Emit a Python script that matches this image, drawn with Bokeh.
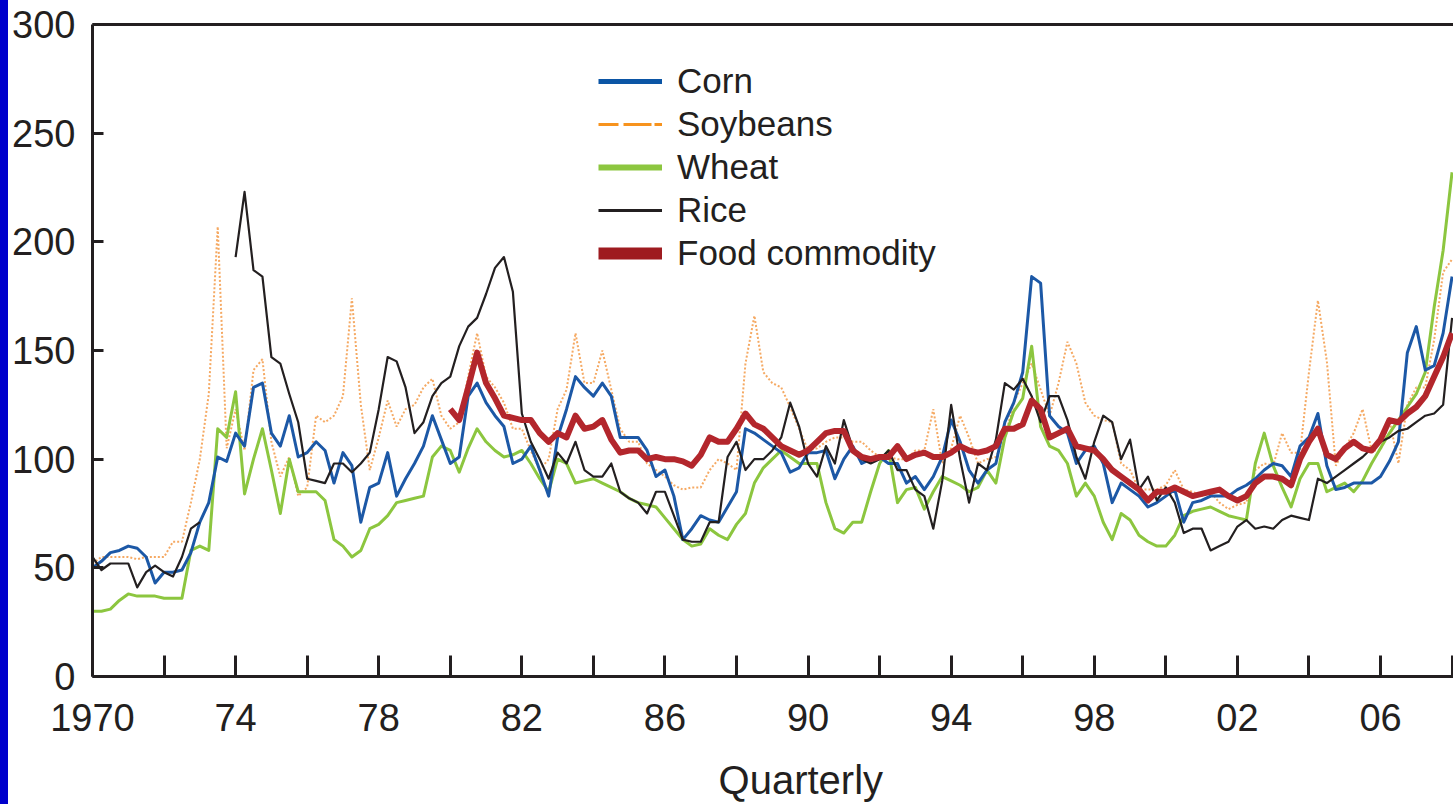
import numpy as np
from bokeh.plotting import figure
from bokeh.models import Range1d, FixedTicker, LinearAxis, Legend, LegendItem
from bokeh.embed import file_html
from bokeh.resources import INLINE

# ---------------- data (quarterly index values) ----------------
quarters = np.arange(1970.0, 2008.001, 0.25)          # 1970Q1 ... 2008Q1
food_quarters = np.arange(1980.0, 2008.001, 0.25)     # food index starts 1980

corn = [
    50, 53, 57, 58,  60, 59, 55, 43,  48, 48, 49, 57,  71, 80, 101, 99,      # 1970-73
    112, 106, 133, 135,  112, 106, 120, 101,  103, 108, 104, 89,  103, 97, 71, 87,  # 74-77
    89, 103, 83, 91,  98, 106, 120, 109,  98, 101, 129, 135,  126, 120, 115, 98,   # 78-81
    100, 106, 95, 83,  110, 123, 138, 133,  129, 135, 129, 110,  110, 110, 104, 92,  # 82-85
    95, 83, 63, 68,  74, 72, 71, 78,  85, 114, 112, 109,  106, 103, 94, 96,    # 86-89
    103, 103, 104, 91,  100, 106, 98, 100,  101, 98, 98, 89,  92, 86, 92, 101,  # 90-93
    118, 108, 95, 89,  95, 98, 117, 126,  140, 184, 181, 120,  115, 112, 98, 104,  # 94-97
    106, 98, 80, 89,  86, 83, 78, 80,  83, 86, 71, 80,  81, 83, 83, 83,        # 98-01
    86, 88, 91, 95,  98, 97, 92, 106,  110, 121, 97, 86,  87, 89, 89, 89,      # 02-05
    92, 99, 108, 149,  161, 141, 143, 158,  184,                               # 06-08
]
soybeans = [
    52, 55, 55, 55,  55, 54, 55, 55,  55, 62, 62, 80,  100, 130, 207, 105,
    123, 104, 141, 146,  108, 92, 101, 83,  87, 120, 117, 120,  129, 174, 125, 95,
    110, 127, 115, 123,  125, 133, 137, 120,  114, 117, 138, 158,  138, 133, 126, 114,
    114, 104, 95, 100,  123, 132, 158, 135,  135, 150, 132, 114,  108, 108, 98, 95,
    92, 88, 86, 87,  87, 95, 100, 98,  95, 144, 166, 140,  135, 133, 124, 114,
    104, 105, 108, 110,  110, 108, 108, 104,  101, 101, 100, 100,  104, 104, 123, 98,
    105, 120, 110, 98,  100, 101, 110, 126,  135, 144, 132, 120,  135, 154, 144, 126,
    120, 118, 117, 98,  95, 86, 86, 86,  88, 95, 86, 85,  83, 85, 80, 77,
    79, 80, 95, 98,  97, 112, 103, 103,  140, 173, 145, 97,  105, 112, 123, 104,
    104, 118, 98, 125,  133, 133, 155, 186,  192,
]
wheat = [
    30, 30, 31, 35,  38, 37, 37, 37,  36, 36, 36, 58,  60, 58, 114, 110,
    131, 84, 100, 114,  95, 75, 100, 85,  85, 85, 81, 63,  60, 55, 58, 68,
    70, 74, 80, 81,  82, 83, 101, 106,  104, 94, 105, 114,  108, 104, 101, 102,
    104, 98, 91, 85,  100, 98, 89, 90,  91, 89, 87, 85,  82, 80, 79, 78,
    73, 68, 63, 60,  61, 68, 65, 63,  70, 75, 89, 96,  100, 104, 101, 98,
    98, 98, 80, 68,  66, 71, 71, 85,  98, 104, 80, 86,  87, 77, 85, 92,
    90, 88, 85, 87,  95, 89, 110, 122,  128, 152, 115, 106,  104, 98, 83, 89,
    83, 71, 63, 75,  72, 65, 62, 60,  60, 65, 74, 76,  77, 78, 76, 74,
    73, 72, 98, 112,  97, 87, 78, 91,  98, 98, 85, 87,  89, 85, 90, 98,
    105, 112, 118, 124,  130, 140, 170, 196,  232,
]
rice = [
    55, 49, 52, 52,  52, 41, 48, 51,  48, 46, 55, 68,  71, None, None, None,
    193, 223, 187, 184,  147, 144, 130, 117,  91, 90, 89, 98,  98, 94, 98, 103,
    123, 147, 145, 133,  112, 117, 129, 135,  138, 152, 161, 165,  176, 188, 193, 177,
    121, 108, 100, 91,  103, 98, 108, 95,  92, 92, 98, 85,  82, 80, 75, 85,
    85, 74, 63, 62,  62, 71, 71, 101,  108, 95, 100, 100,  104, 110, 126, 115,
    98, 92, 106, 98,  118, 105, 100, 98,  100, 104, 95, 95,  86, 83, 68, 90,
    125, 100, 80, 98,  95, 109, 135, 132,  137, 129, 117, 129,  129, 118, 101, 91,
    108, 120, 117, 100,  109, 86, 92, 81,  87, 80, 66, 68,  68, 58, 60, 62,
    69, 72, 68, 69,  68, 72, 74, 73,  72, 91, 89, 92,  95, 98, 101, 105,
    108, 110, 113, 114,  117, 120, 121, 125,  165,
]
food_commodity = [
    123, 118, 133, 149,  135, 128, 120, 119,  118, 118, 112, 108,  112, 110, 120, 114,
    115, 118, 109, 103,  104, 104, 100, 101,  100, 100, 99, 97,  102, 110, 108, 108,
    114, 121, 116, 114,  110, 106, 104, 102,  104, 108, 112, 113,  113, 104, 101, 100,
    101, 101, 106, 100,  102, 103, 101, 101,  103, 106, 104, 103,  104, 106, 114, 114,
    116, 127, 123, 110,  112, 114, 106, 105,  104, 100, 95, 92,  89, 86, 81, 85,
    85, 87, 85, 83,  84, 85, 86, 83,  81, 83, 89, 92,  92, 91, 88, 100,
    108, 114, 102, 100,  105, 108, 105, 104,  109, 118, 117, 121,  124, 129, 138, 147,
    158,
]

series_names = ["Corn", "Soybeans", "Wheat", "Rice", "Food commodity"]
y_ticks = [0, 50, 100, 150, 200, 250, 300]
x_label_ticks = [1970, 1974, 1978, 1982, 1986, 1990, 1994, 1998, 2002, 2006]
x_tick_labels = ["1970", "74", "78", "82", "86", "90", "94", "98", "02", "06"]
x_minor_ticks = [1972, 1976, 1980, 1984, 1988, 1992, 1996, 2000, 2004, 2008]
x_axis_title = "Quarterly"

rice_arr = np.array([np.nan if v is None else v for v in rice], dtype=float)

# ---------------- styling ----------------
FONT = "Liberation Sans"
INK = "#231f20"
C_CORN, C_SOY, C_WHEAT, C_RICE, C_FOOD = "#1c58a6", "#f39a48", "#8cc63f", INK, "#b3262c"

p = figure(width=1445, height=804,
           x_range=Range1d(1970, 2008.04), y_range=Range1d(0, 300),
           output_backend="svg", toolbar_location=None,
           min_border_left=84, min_border_right=0, min_border_top=24, min_border_bottom=128)
p.grid.visible = False
p.outline_line_color = None
p.background_fill_color = "white"
p.border_fill_color = "white"

p.line(quarters, soybeans, line_color=C_SOY, line_width=2, line_dash="2 2", line_alpha=0.85)
p.line(quarters, wheat, line_color=C_WHEAT, line_width=3, line_join="round")
p.line(quarters, corn, line_color=C_CORN, line_width=3, line_join="round")
p.line(quarters, rice_arr, line_color=C_RICE, line_width=2.2, line_join="round")
p.line(food_quarters, food_commodity, line_color=C_FOOD, line_width=6, line_join="round")

# legend swatches: renderers holding a single missing point, drawn thicker like the original key
nan1 = np.array([np.nan])
leg = [
    p.line(nan1, nan1, line_color="#0b55a5", line_width=5),
    p.line(nan1, nan1, line_color="#f7931e", line_width=3, line_dash="20 5 28 3"),
    p.line(nan1, nan1, line_color="#8cc63f", line_width=6),
    p.line(nan1, nan1, line_color=INK, line_width=3),
    p.line(nan1, nan1, line_color="#9e1b20", line_width=12),
]
legend = Legend(items=[LegendItem(label=n, renderers=[r]) for n, r in zip(series_names, leg)],
                location=(506, 403), orientation="vertical",
                glyph_width=64, glyph_height=40, label_height=40, label_standoff=15,
                spacing=3, padding=0, margin=0,
                border_line_color=None, background_fill_alpha=0,
                label_text_font=FONT, label_text_font_size="35px", label_text_color=INK)
p.add_layout(legend)

ya = p.yaxis[0]
ya.ticker = FixedTicker(ticks=y_ticks)
ya.axis_line_width = 3
ya.axis_line_color = INK
ya.major_tick_in = 11
ya.major_tick_out = 0
ya.major_tick_line_width = 3
ya.major_tick_line_color = INK
ya.minor_tick_line_color = None
ya.major_label_text_font = FONT
ya.major_label_text_font_size = "38px"
ya.major_label_text_color = INK
ya.major_label_standoff = 17

xa = p.xaxis[0]
xa.ticker = FixedTicker(ticks=x_label_ticks, minor_ticks=x_minor_ticks)
xa.major_label_overrides = dict(zip(x_label_ticks, x_tick_labels))
xa.axis_line_width = 3
xa.axis_line_color = INK
xa.major_tick_in = 21
xa.major_tick_out = 0
xa.minor_tick_in = 21
xa.minor_tick_out = 0
xa.major_tick_line_width = 3
xa.minor_tick_line_width = 3
xa.major_tick_line_color = INK
xa.minor_tick_line_color = INK
xa.major_label_text_font = FONT
xa.major_label_text_font_size = "38px"
xa.major_label_text_color = INK
xa.major_label_standoff = 27

# top frame line
top = LinearAxis(ticker=FixedTicker(ticks=[]), axis_line_width=3, axis_line_color=INK,
                 major_tick_line_color=None, minor_tick_line_color=None,
                 major_tick_in=0, major_tick_out=0, minor_tick_in=0, minor_tick_out=0,
                 major_label_text_font_size="0px")
p.add_layout(top, "above")

# x-axis title on a label-only axis below the tick labels; the original title sits
# a little right of the frame centre, so it is led by a few no-break spaces
title_axis = LinearAxis(ticker=FixedTicker(ticks=[]),
                        axis_line_color=None, major_tick_line_color=None, minor_tick_line_color=None,
                        major_tick_in=0, major_tick_out=0, minor_tick_in=0, minor_tick_out=0,
                        major_label_standoff=0,
                        axis_label="\u00a0" * 5 + x_axis_title, axis_label_standoff=24,
                        axis_label_text_font=FONT, axis_label_text_font_size="40px",
                        axis_label_text_font_style="normal", axis_label_text_color=INK)
p.add_layout(title_axis, "below")

css = """{% block preamble %}<style>
html { margin: 0 !important; padding: 0 !important; overflow: hidden !important;
       background: linear-gradient(to right, #0000cc 0px, #0000cc 8px, #ffffff 8px) !important; }
body { margin: 0 0 0 8px !important; padding: 0 !important; overflow: hidden !important;
       background: transparent !important; }
</style>{% endblock %}"""

open("out.html", "w").write(file_html(p, INLINE, title="Food commodity prices", template=css))
